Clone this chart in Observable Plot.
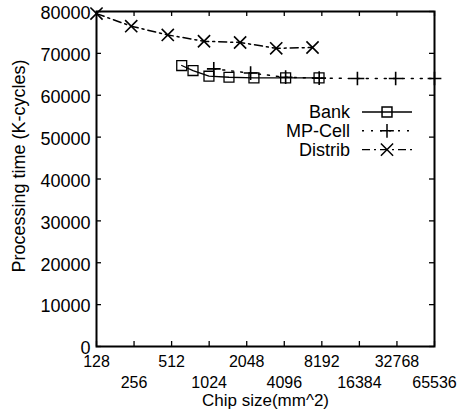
<!DOCTYPE html>
<html><head><meta charset="utf-8">
<script src="https://cdn.jsdelivr.net/npm/d3@7"></script>
<script src="https://cdn.jsdelivr.net/npm/@observablehq/plot@0.6"></script>
<style>
body{margin:0;background:#fff;}
#chart svg{font-family:"Liberation Sans",Arial,Helvetica,sans-serif;background:#fff;}
</style></head><body><div id="chart"></div>
<script>
// Data
const bankX = [617, 760, 1020, 1476, 2340, 4200, 7780];
const bankY = [67100, 65900, 64550, 64300, 64150, 64150, 64150];
const mpX = [1115, 2200, 4200, 7800, 15800, 32000, 65536];
const mpY = [66300, 65300, 64300, 64100, 64000, 64000, 64000];
const distX = [128, 243, 477, 931, 1813, 3530, 6900];
const distY = [79500, 76500, 74400, 72900, 72600, 71200, 71400];
const xTicks = [128, 256, 512, 1024, 2048, 4096, 8192, 16384, 32768, 65536];
const yTicks = [0, 10000, 20000, 30000, 40000, 50000, 60000, 70000, 80000];
const seriesNames = ["Bank", "MP-Cell", "Distrib"];
const xLabel = "Chip size(mm^2)";
const yLabel = "Processing time (K-cycles)";

const bank = bankX.map((x, i) => ({x, y: bankY[i]}));
const mp = mpX.map((x, i) => ({x, y: mpY[i]}));
const dist = distX.map((x, i) => ({x, y: distY[i]}));

const W = 467, H = 411;
const mT = 11, mR = 33, mB = 65, mL = 96;
const innerH = H - mT - mB;
const innerW = W - mL - mR;
const tick = 5;

const styles = {
  "Bank": {dash: null, symbol: "square", r: 5.6, sw: 1.3},
  "MP-Cell": {dash: "2,7", symbol: "plus", r: 4.5, sw: 1.5},
  "Distrib": {dash: "8,4,2,4", symbol: "times", r: 5.6, sw: 1.6}
};

const chart = Plot.plot({
  width: W, height: H,
  marginTop: mT, marginRight: mR, marginBottom: mB, marginLeft: mL,
  style: {fontFamily: '"Liberation Sans",Arial,sans-serif', background: "#fff", color: "#000"},
  x: {type: "log", base: 2, domain: [128, 65536]},
  y: {domain: [0, 80000]},
  marks: [
    Plot.tickX(xTicks, {x: d => d, insetTop: innerH - tick, stroke: "#000", strokeWidth: 1.3}),
    Plot.tickX(xTicks, {x: d => d, insetBottom: innerH - tick, stroke: "#000", strokeWidth: 1.3}),
    Plot.tickY(yTicks, {y: d => d, insetRight: innerW - tick, stroke: "#000", strokeWidth: 1.3}),
    Plot.tickY(yTicks, {y: d => d, insetLeft: innerW - tick, stroke: "#000", strokeWidth: 1.3}),
    Plot.axisX(xTicks.filter((d, i) => i % 2 === 0), {label: null, tickSize: 0, tickPadding: 9, fontSize: 16, tickFormat: d => String(d)}),
    Plot.axisX(xTicks.filter((d, i) => i % 2 === 1), {label: null, tickSize: 0, tickPadding: 30, fontSize: 16, tickFormat: d => String(d)}),
    Plot.axisY(yTicks, {label: null, tickSize: 0, tickPadding: 6, fontSize: 18, dy: 2, tickFormat: d => String(d)}),
    Plot.line(bank, {x: "x", y: "y", stroke: "#000", strokeWidth: 1.3}),
    Plot.line(mp, {x: "x", y: "y", stroke: "#000", strokeWidth: 1.5, strokeDasharray: styles["MP-Cell"].dash}),
    Plot.line(dist, {x: "x", y: "y", stroke: "#000", strokeWidth: 1.5, strokeDasharray: styles["Distrib"].dash}),
    Plot.dot(bank, {x: "x", y: "y", symbol: "square", r: styles["Bank"].r, stroke: "#000", fill: "none", strokeWidth: 1.3}),
    Plot.dot(mp, {x: "x", y: "y", symbol: "plus", r: styles["MP-Cell"].r, stroke: "#000", strokeWidth: 1.6}),
    Plot.dot(dist, {x: "x", y: "y", symbol: "times", r: styles["Distrib"].r, stroke: "#000", strokeWidth: 1.6}),
    Plot.frame({stroke: "#000", strokeWidth: 2}),
    Plot.text([xLabel], {frameAnchor: "bottom", dy: 47, lineAnchor: "top", fontSize: 17, fill: "#000"}),
    Plot.text([yLabel], {frameAnchor: "left", textAnchor: "middle", rotate: -90, dx: -77, dy: -13, fontSize: 18, fill: "#000"})
  ]
});

// Legend (inside plot, upper right)
const svg = d3.select(chart);
const lg = svg.append("g").attr("font-size", 18).attr("fill", "#000");
seriesNames.forEach((name, i) => {
  const s = styles[name];
  const cy = 112 + i * 18.8;
  lg.append("text").attr("x", 350).attr("y", cy).attr("dy", "0.35em")
    .attr("text-anchor", "end").text(name);
  lg.append("line").attr("x1", 362).attr("x2", 412).attr("y1", cy).attr("y2", cy)
    .attr("stroke", "#000").attr("stroke-width", 1.4)
    .attr("stroke-dasharray", s.dash);
  const sym = {square: d3.symbolSquare, plus: d3.symbolPlus, times: d3.symbolTimes}[s.symbol];
  lg.append("path").attr("transform", `translate(387,${cy})`)
    .attr("d", d3.symbol(sym, s.r * s.r * Math.PI)())
    .attr("fill", "none").attr("stroke", "#000").attr("stroke-width", 1.5);
});

document.getElementById("chart").appendChild(chart);
</script>
</body></html>
